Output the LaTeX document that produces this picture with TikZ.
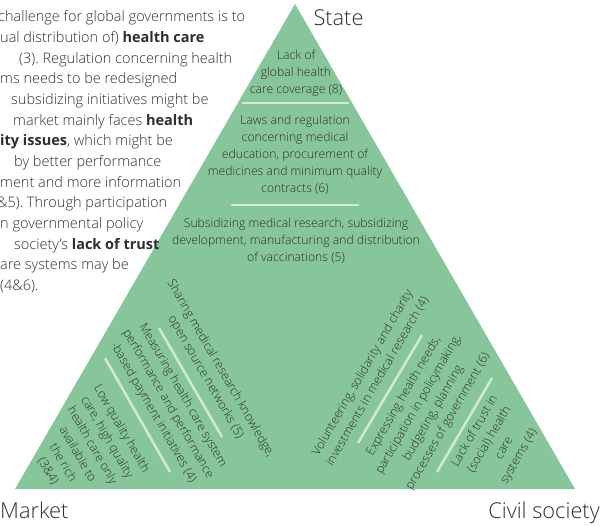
\documentclass[tikz,border=0pt]{standalone}
\usepackage{fontspec}
\IfFontExistsTF{Open Sans Light}
   {\setmainfont{Open Sans Light}[BoldFont = Open Sans Bold]}
   {\setmainfont{Open Sans}}
\frenchspacing
\definecolor{leaf}{HTML}{87C69A}
\definecolor{rule}{HTML}{CFE9D4}
\definecolor{ink}{HTML}{2E2E2E}

\begin{document}
\begin{tikzpicture}
      [x = 1pt, y = -1pt,
      field/.style = {
         align = center,
         text = ink,
         inner sep = 0pt,
         font = \fontsize{12.2}{17}\selectfont
      },
      corner/.style = {
         anchor = base,
         text = ink,
         inner sep = 0pt,
         font = \fontsize{21.8}{24}\selectfont
      },
      para/.style = {
         anchor = base west,
         text = ink,
         inner sep = 0pt,
         font = \fontsize{14.5}{20}\selectfont
      },
      divider/.style = {draw = rule, line width = 2.5pt}]

      \useasboundingbox (0, 0) rectangle (613, 525);

      % the triangle and its corners
      \coordinate (top) at (295, 4);
      \coordinate (right) at (575, 489);
      \coordinate (left) at (15, 489);
      \fill[leaf] (top) -- (right) -- (left) -- cycle;

      \node[corner] (state) at (338.5, 25) {State};
      \node[corner, anchor = base west] (market) at (0, 518) {Market};
      \node[corner, anchor = base east] (civil) at (600, 518) {Civil society};

      % text running in from the left, cut by the page edge
      \node[para] (p1) at (-2, 21.7) {challenge for global governments is to};
      \node[para] (p2) at (0, 42.4) {ual distribution of) \textbf{health care}};
      \node[para] (p3) at (19, 63) {(3). Regulation concerning health};
      \node[para] (p4) at (0, 83.7) {ms needs to be redesigned};
      \node[para] (p5) at (11, 104.4) {subsidizing initiatives might be};
      \node[para] (p6) at (13, 125) {market mainly faces \textbf{health}};
      \node[para] (p7) at (0, 145.7) {\textbf{ity issues}, which might be};
      \node[para] (p8) at (14, 166.4) {by better performance};
      \node[para] (p9) at (0, 187) {ment and more information};
      \node[para] (p10) at (-3, 207.7) {\&5). Through participation};
      \node[para] (p11) at (0, 228.4) {n governmental policy};
      \node[para] (p12) at (14, 249) {society's \textbf{lack of trust}};
      \node[para] (p13) at (0, 269.7) {are systems may be};
      \node[para] (p14) at (0, 290.4) {(4\&6).};

      % state
      \node[field] (coverage) at (296, 73) {Lack of\\global health\\care coverage (8)};
      \draw[divider] (242, 103) -- (349, 103);
      \node[field] (laws) at (295, 155) {Laws and regulation\\concerning medical\\education, procurement of\\medicines and minimum quality\\contracts (6)};
      \draw[divider] (231, 205) -- (359, 205);
      \node[field] (subsidy) at (296, 241) {Subsidizing medical research, subsidizing\\development, manufacturing and distribution\\of vaccinations (5)};

      % market
      \node[field, rotate = -60] (sharing) at (213, 373) {Sharing medical research knowledge,\\open source networks (5)};
      \draw[divider] (159, 328) -- (222, 437);
      \node[field, rotate = -60] (measuring) at (168, 404) {Measuring health care system\\performance and performance\\-based payment initiatives (4)};
      \draw[divider] (105, 358) -- (170, 472);
      \node[field, rotate = -60] (quality) at (85, 450) {Low quality health\\care, high quality\\health care only\\available to\\the rich\\(3\&4)};

      % civil society
      \node[field, rotate = 60] (charity) at (370, 377) {Volunteering, solidarity and charity\\investments in medical research (4)};
      \draw[divider] (358, 443) -- (422, 335);
      \node[field, rotate = 60] (needs) at (426, 409) {Expressing health needs,\\participation in policymaking,\\budgeting, planning\\processes of government (6)};
      \draw[divider] (437, 472) -- (492, 378);
      \node[field, rotate = 60] (trust) at (497, 444) {Lack of trust in\\(social) health\\care\\systems (4)};

   \end{tikzpicture}
\end{document}
